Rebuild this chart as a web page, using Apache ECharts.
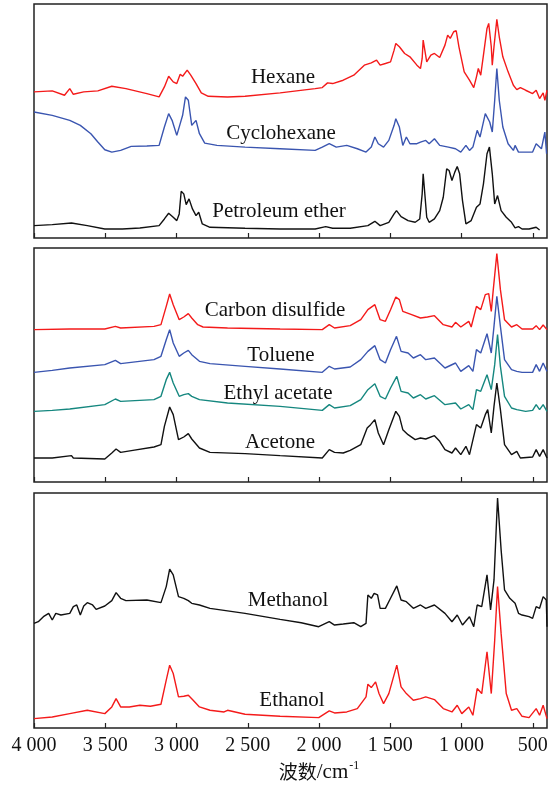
<!DOCTYPE html>
<html>
<head>
<meta charset="utf-8">
<script src="https://cdn.jsdelivr.net/npm/echarts@6/dist/echarts.min.js"></script>
<style>html,body{margin:0;padding:0;background:#fff}#c{width:549px;height:785px}</style>
</head>
<body>
<div id="c"></div>
<script>
// x: wavenumber (cm^-1), y: relative intensity (arbitrary units, offset per curve)
const tickValues = [4000, 3500, 3000, 2500, 2000, 1500, 1000, 500];
const tickLabels = ["4 000", "3 500", "3 000", "2 500", "2 000", "1 500", "1 000", "500"];
const seriesNames = ["Hexane", "Cyclohexane", "Petroleum ether", "Carbon disulfide", "Toluene", "Ethyl acetate", "Acetone", "Methanol", "Ethanol"];

const hexane = [[4000,437],[3872,440],[3786,427],[3749,447],[3724,430],[3651,437],[3552,440],[3454,454],[3355,447],[3208,432],[3122,422],[3085,452],[3055,484],[3023,467],[2998,462],[2974,490],[2957,484],[2925,502],[2900,487],[2863,462],[2826,434],[2777,424],[2642,422],[2519,424],[2273,434],[2027,447],[1977,450],[1940,464],[1904,462],[1830,472],[1756,487],[1682,517],[1633,524],[1596,532],[1571,517],[1534,522],[1498,527],[1473,562],[1461,582],[1436,572],[1399,552],[1362,542],[1313,517],[1288,507],[1276,537],[1269,592],[1256,592],[1244,527],[1215,547],[1190,552],[1153,540],[1116,577],[1097,607],[1079,597],[1055,617],[1037,620],[1018,572],[981,497],[944,472],[914,450],[895,482],[882,507],[865,487],[846,547],[821,627],[809,642],[791,572],[784,517],[772,572],[752,654],[735,602],[710,542],[673,497],[636,457],[612,444],[587,450],[550,442],[501,432],[476,442],[452,417],[427,434],[415,412],[400,442]];
const cyclohexane = [[4000,377],[3872,367],[3749,352],[3675,337],[3601,312],[3552,287],[3503,264],[3454,257],[3392,262],[3318,274],[3208,275],[3122,277],[3085,332],[3055,372],[3031,352],[2998,307],[2974,342],[2957,367],[2937,422],[2917,412],[2893,337],[2863,352],[2839,312],[2802,284],[2716,277],[2519,272],[2273,267],[2027,262],[1977,272],[1928,282],[1879,272],[1805,277],[1731,267],[1670,257],[1633,272],[1608,302],[1584,282],[1547,272],[1510,292],[1473,337],[1461,357],[1436,332],[1412,277],[1387,302],[1362,282],[1313,282],[1288,287],[1251,292],[1227,282],[1190,297],[1153,277],[1092,272],[1042,267],[1005,257],[969,277],[944,262],[920,272],[890,322],[870,302],[833,372],[821,377],[802,347],[784,317],[767,412],[752,507],[735,412],[710,332],[673,282],[636,262],[624,277],[600,257],[550,257],[501,257],[476,282],[439,267],[415,317],[403,252]];
const petroleumEther = [[4000,37],[3872,40],[3737,45],[3626,37],[3503,27],[3380,27],[3257,30],[3122,37],[3085,57],[3055,74],[3023,62],[2998,52],[2981,72],[2967,140],[2949,132],[2932,100],[2912,117],[2888,87],[2863,67],[2844,77],[2819,42],[2765,32],[2519,29],[2273,27],[2027,27],[1953,34],[1904,29],[1781,29],[1657,37],[1608,50],[1571,37],[1510,47],[1473,72],[1456,82],[1424,64],[1375,52],[1325,47],[1293,57],[1276,132],[1269,192],[1256,187],[1244,62],[1227,47],[1190,57],[1153,82],[1128,122],[1104,207],[1087,202],[1067,172],[1047,197],[1030,214],[1013,192],[993,112],[969,42],[932,52],[895,92],[870,102],[846,162],[821,252],[804,272],[784,192],[767,102],[747,127],[722,82],[686,62],[649,47],[624,30],[600,34],[575,27],[526,27],[476,32],[452,24]];
const carbonDisulfide = [[4000,457],[3749,459],[3503,459],[3429,467],[3392,462],[3158,467],[3109,472],[3072,527],[3048,564],[3023,532],[2981,487],[2949,495],[2917,505],[2893,492],[2851,472],[2814,465],[2642,462],[2273,459],[1977,457],[1928,472],[1891,462],[1781,469],[1707,487],[1657,517],[1608,532],[1571,487],[1534,482],[1498,517],[1461,555],[1436,547],[1412,512],[1350,502],[1288,492],[1239,495],[1190,499],[1128,472],[1067,465],[1042,479],[1005,465],[949,482],[932,465],[895,527],[865,517],[833,562],[809,565],[791,512],[777,577],[752,685],[727,577],[698,487],[649,465],[612,472],[575,459],[501,459],[476,469],[452,457],[427,471],[400,457]];
const toluene = [[4000,329],[3872,335],[3749,342],[3737,347],[3503,352],[3429,365],[3392,355],[3158,367],[3109,377],[3072,427],[3048,457],[3023,417],[2981,377],[2949,387],[2917,395],[2893,382],[2839,362],[2765,355],[2519,347],[2273,339],[1977,329],[1928,347],[1891,339],[1781,345],[1707,367],[1657,392],[1608,409],[1571,367],[1534,357],[1498,397],[1456,437],[1424,392],[1375,387],[1338,372],[1288,382],[1251,367],[1190,372],[1116,342],[1042,357],[1005,332],[949,349],[920,332],[895,397],[865,387],[821,445],[791,387],[772,467],[752,557],[727,467],[698,367],[649,337],[612,332],[575,329],[501,329],[476,352],[452,332],[427,357],[400,332]];
const ethylAcetate = [[4000,212],[3872,215],[3749,219],[3503,232],[3429,249],[3392,242],[3158,247],[3109,257],[3072,307],[3048,329],[3023,297],[2981,257],[2949,262],[2917,265],[2893,257],[2839,247],[2642,237],[2273,227],[1977,215],[1928,232],[1891,222],[1781,229],[1707,247],[1657,277],[1608,295],[1571,257],[1534,249],[1498,282],[1454,317],[1424,272],[1375,267],[1338,252],[1288,262],[1251,249],[1190,259],[1116,232],[1042,237],[1005,219],[949,232],[920,217],[895,277],[865,272],[821,322],[791,277],[767,352],[747,442],[727,347],[698,257],[649,222],[612,217],[550,212],[501,215],[476,232],[452,217],[427,232],[400,212]];
const acetone = [[4000,72],[3872,72],[3737,79],[3724,72],[3503,69],[3454,87],[3424,99],[3392,89],[3306,95],[3158,105],[3109,112],[3085,167],[3048,225],[3023,202],[2986,127],[2949,135],[2917,145],[2893,129],[2839,102],[2765,89],[2519,85],[2273,79],[1977,72],[1928,97],[1891,89],[1830,87],[1781,95],[1707,112],[1662,162],[1638,172],[1608,187],[1584,147],[1547,112],[1510,157],[1461,212],[1436,197],[1412,157],[1375,142],[1325,127],[1288,132],[1251,129],[1190,139],[1153,122],[1116,97],[1067,87],[1042,102],[1005,82],[969,107],[944,82],[895,172],[865,162],[833,202],[816,217],[791,147],[772,227],[752,297],[727,217],[698,112],[649,82],[612,92],[587,72],[501,75],[476,97],[452,77],[427,97],[400,72]];
const methanol = [[4000,313],[3970,318],[3934,333],[3897,343],[3872,323],[3847,343],[3811,338],[3749,343],[3724,363],[3700,368],[3675,338],[3651,365],[3626,375],[3589,368],[3564,355],[3503,365],[3454,381],[3424,405],[3392,388],[3355,381],[3208,383],[3109,375],[3072,423],[3048,475],[3023,458],[2986,393],[2949,388],[2917,381],[2893,373],[2839,368],[2765,358],[2519,343],[2273,325],[2125,315],[2002,303],[1928,318],[1891,308],[1830,311],[1756,315],[1707,303],[1670,313],[1657,398],[1633,388],[1613,403],[1589,398],[1571,358],[1534,358],[1498,388],[1454,425],[1424,383],[1387,378],[1338,358],[1288,368],[1251,358],[1190,368],[1116,343],[1067,318],[1030,338],[993,308],[944,333],[914,303],[890,368],[858,363],[821,458],[796,353],[772,443],[747,688],[722,533],[698,413],[661,388],[624,373],[600,343],[575,338],[526,333],[501,328],[476,363],[452,358],[427,393],[405,383],[400,303]];
const ethanol = [[4000,28],[3872,33],[3749,43],[3626,53],[3503,43],[3454,63],[3424,88],[3392,63],[3331,63],[3257,68],[3183,65],[3109,71],[3072,143],[3048,188],[3023,163],[2986,93],[2949,95],[2917,98],[2888,85],[2839,63],[2765,53],[2666,48],[2642,53],[2519,41],[2273,35],[2002,31],[1928,51],[1891,45],[1805,48],[1731,58],[1670,93],[1657,131],[1633,121],[1603,138],[1579,103],[1547,73],[1510,103],[1454,188],[1424,123],[1387,103],[1338,83],[1288,88],[1251,93],[1190,85],[1128,58],[1067,48],[1030,68],[998,43],[949,63],[920,38],[890,118],[858,103],[821,228],[791,103],[767,263],[747,423],[722,283],[686,103],[649,53],[612,58],[575,35],[526,31],[476,58],[452,38],[427,68],[400,28]];

const panelData = [
  [hexane, cyclohexane, petroleumEther],
  [carbonDisulfide, toluene, ethylAcetate, acetone],
  [methanol, ethanol]
];
const panelMax = [700, 702, 703];

const colors = {red: '#f41a1a', blue: '#3a55b0', teal: '#15877f', black: '#111111'};
const curveColors = [
  [colors.red, colors.blue, colors.black],
  [colors.red, colors.blue, colors.teal, colors.black],
  [colors.black, colors.red]
];
const grids = [
  {left: 34, width: 513, top: 4, height: 234},
  {left: 34, width: 513, top: 248, height: 234},
  {left: 34, width: 513, top: 493, height: 235}
];
const labelPos = [[283,77],[281,133],[279,211],[275,310],[281,355],[278,393],[280,442],[288,600],[292,700]];

const serif = '"Liberation Serif","DejaVu Serif",serif';
const chart = echarts.init(document.getElementById('c'), null, {renderer: 'canvas'});

const xAxes = grids.map((g, i) => ({
  type: 'value', gridIndex: i, inverse: true, min: 400, max: 4000,
  axisLine: {show: false},
  splitLine: {show: false},
  axisTick: {show: true, inside: true, length: 5, customValues: tickValues, lineStyle: {color: '#222', width: 1.2}},
  axisLabel: {
    show: i === 2, customValues: tickValues, margin: 8,
    fontFamily: serif, fontSize: 20, color: '#111',
    formatter: v => tickLabels[tickValues.indexOf(v)]
  }
}));
const yAxes = grids.map((g, i) => ({type: 'value', gridIndex: i, min: 0, max: panelMax[i], show: false}));

const series = [];
let k = 0;
panelData.forEach((arr, p) => {
  arr.forEach((d, j) => {
    series.push({
      name: seriesNames[k], type: 'line', xAxisIndex: p, yAxisIndex: p, data: d,
      symbol: 'none', lineStyle: {color: curveColors[p][j], width: 1.4}, itemStyle: {color: curveColors[p][j]},
      animation: false, silent: true
    });
    k++;
  });
});

const graphics = seriesNames.map((n, i) => ({
  type: 'text', x: labelPos[i][0], y: labelPos[i][1],
  style: {text: n, fontFamily: serif, fontSize: 21, fill: '#111', align: 'center', verticalAlign: 'middle'}
}));
graphics.push({
  type: 'text', x: 319, y: 772,
  style: {
    text: '{a|波数}{b|/cm}{c|-1}', align: 'center', verticalAlign: 'middle', fill: '#111',
    rich: {
      a: {fontFamily: '"Noto Sans CJK SC",sans-serif', fontSize: 19, lineHeight: 24, fill: '#111'},
      b: {fontFamily: serif, fontSize: 21, lineHeight: 24, fill: '#111'},
      c: {fontFamily: serif, fontSize: 12, lineHeight: 24, verticalAlign: 'top', padding: [0, 0, 10, 1], fill: '#111'}
    }
  }
});

chart.setOption({
  animation: false,
  grid: grids.map(g => Object.assign({show: true, borderColor: '#222', borderWidth: 1.5, backgroundColor: 'transparent', containLabel: false, outerBoundsMode: 'none'}, g)),
  xAxis: xAxes,
  yAxis: yAxes,
  series: series,
  graphic: graphics
});
</script>
</body>
</html>
